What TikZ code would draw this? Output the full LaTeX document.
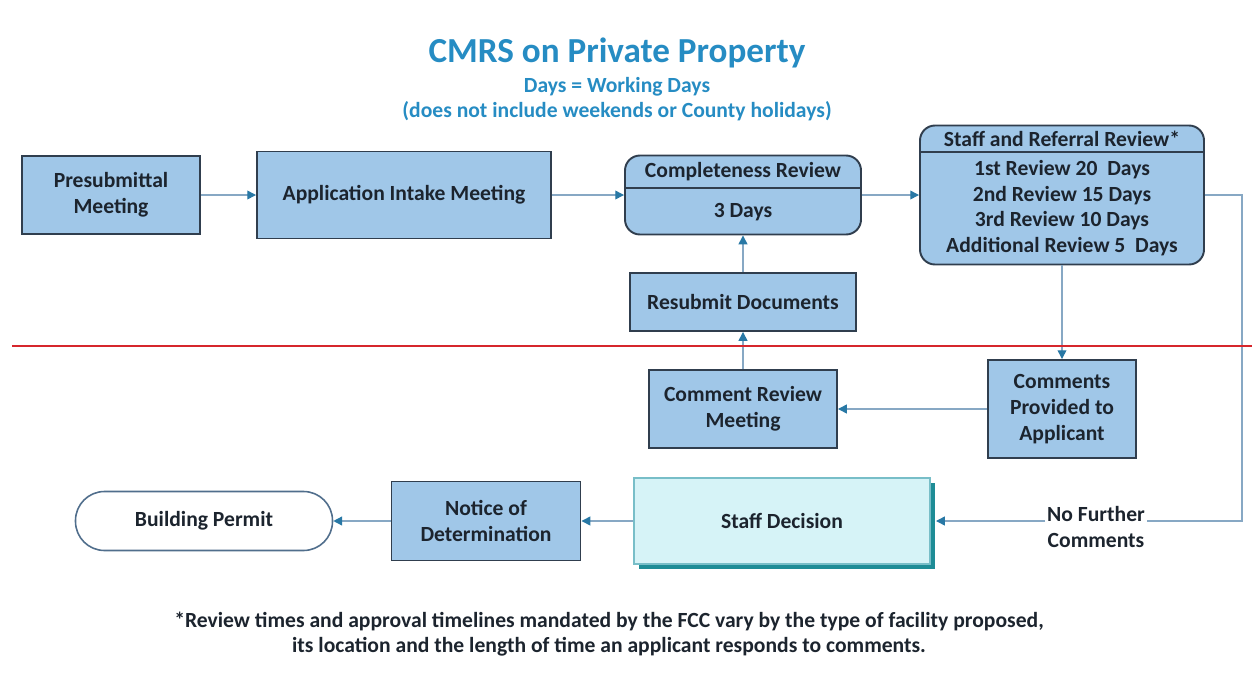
\documentclass[tikz,border=0pt]{standalone}
\usepackage{fontspec}
\setmainfont{Carlito}
\usetikzlibrary{arrows.meta}
\usetikzlibrary{shadows}

\definecolor{boxFill}{RGB}{160,199,232}
\definecolor{boxEdge}{RGB}{48,62,78}
\definecolor{lineBlue}{RGB}{135,168,196}
\definecolor{tipBlue}{RGB}{40,120,165}
\definecolor{titleBlue}{RGB}{38,140,195}
\definecolor{decisionFill}{RGB}{214,243,247}
\definecolor{decisionEdge}{RGB}{120,190,200}
\definecolor{decisionShadow}{RGB}{30,140,150}
\definecolor{permitEdge}{RGB}{80,110,140}
\definecolor{textDark}{RGB}{28,36,46}
\definecolor{cutRed}{RGB}{214,38,44}

\begin{document}
\begin{tikzpicture}
[x=0.02cm, y=-0.02cm,%
  boxText/.style={font=\fontsize{12.3}{14.6}\selectfont\bfseries, text=textDark, align=center, inner sep=0pt},%
  stepBox/.style={boxText, draw=boxEdge, line width=1.1pt, fill=boxFill},%
  phaseBox/.style={stepBox, rounded corners=0.3cm},%
  dividerLine/.style={draw=boxEdge, line width=1.1pt},%
  plainLine/.style={draw=lineBlue, line width=0.8pt},%
  flowLine/.style={plainLine, -{Triangle[length=5pt,width=5pt,color=tipBlue]}}]
\useasboundingbox (0,0) rectangle (1252,673);
%% title
\node (title) at (617,53) [font=\fontsize{20}{24}\selectfont\bfseries, text=titleBlue] {CMRS on Private Property};
\node (subtitle) at (617,99) [font=\fontsize{12.3}{14.2}\selectfont\bfseries, text=titleBlue, align=center]
  {Days = Working Days\\(does not include weekends or County holidays)};
%% plain steps
\foreach \nodename/\txt/\x/\y/\w/\h in {
  presub/{Presubmittal\\Meeting}/111/195/178/78,
  intake/{Application Intake Meeting}/404/195/294/87,
  resubmit/{Resubmit Documents}/743/302/226/58,
  crm/{Comment Review\\Meeting}/743/409/188/78,
  comments/{Comments\\Provided to\\Applicant}/1062/409/148/98,
  notice/{Notice of\\Determination}/486/521/189/79}
{
  \node (\nodename) at (\x,\y) [stepBox, minimum width=\w*0.02cm, minimum height=\h*0.02cm] {\txt};
}
%% review phases
\node (complete) at (743,195) [phaseBox, minimum width=236*0.02cm, minimum height=79*0.02cm] {};
\draw[dividerLine] (complete.west |- 0,188) -- (complete.east |- 0,188);
\node (completeHead) at (743,172) [boxText] {Completeness Review};
\node (completeDays) at (743,212) [boxText] {3 Days};
\node (review) at (1062,195) [phaseBox, minimum width=284*0.02cm, minimum height=139*0.02cm] {};
\draw[dividerLine] (review.west |- 0,152) -- (review.east |- 0,152);
\node (reviewHead) at (1062,139) [boxText] {Staff and Referral Review*};
\node (reviewDays) at (1062,208) [boxText]
  {1st Review 20~ Days\\2nd Review 15 Days\\3rd Review 10 Days\\Additional Review 5~ Days};
%% decision and permit
\node (decision) at (782,521) [boxText, draw=decisionEdge, line width=0.8pt, fill=decisionFill,
  drop shadow={shadow xshift=3pt, shadow yshift=-3pt, fill=decisionShadow, opacity=1},
  minimum width=296*0.02cm, minimum height=86*0.02cm] {Staff Decision};
\node (permit) at (204,521) [boxText, draw=permitEdge, line width=0.9pt, fill=white, rounded corners=0.58cm,
  minimum width=257*0.02cm, minimum height=59*0.02cm] {Building Permit};
\node (nofurther) at (1096,527) [boxText, inner xsep=1pt] {No Further\\Comments};
\coordinate (turn) at (1242,521);
%% edges or lines
\path
\foreach \startnode/\endnode in {
  presub/intake, intake/complete, complete/review, review/comments, comments/crm,
  crm/resubmit, resubmit/complete, decision/notice, notice/permit}
{
  (\startnode) edge[flowLine] (\endnode)
};
\draw[plainLine] (review.east) -| (turn) -- (nofurther.east |- turn);
\draw[flowLine] (nofurther.west |- turn) -- ([xshift=3pt]decision.east);
%% red cut line
\draw[cutRed, line width=1.7pt] (12,346) -- (1252,346);
%% footnote
\node (footnote) at (609,634) [font=\fontsize{12.3}{14.2}\selectfont\bfseries, text=textDark, align=center]
  {*Review times and approval timelines mandated by the FCC vary by the type of facility proposed,\\
   its location and the length of time an applicant responds to comments.};
\end{tikzpicture}
\end{document}
